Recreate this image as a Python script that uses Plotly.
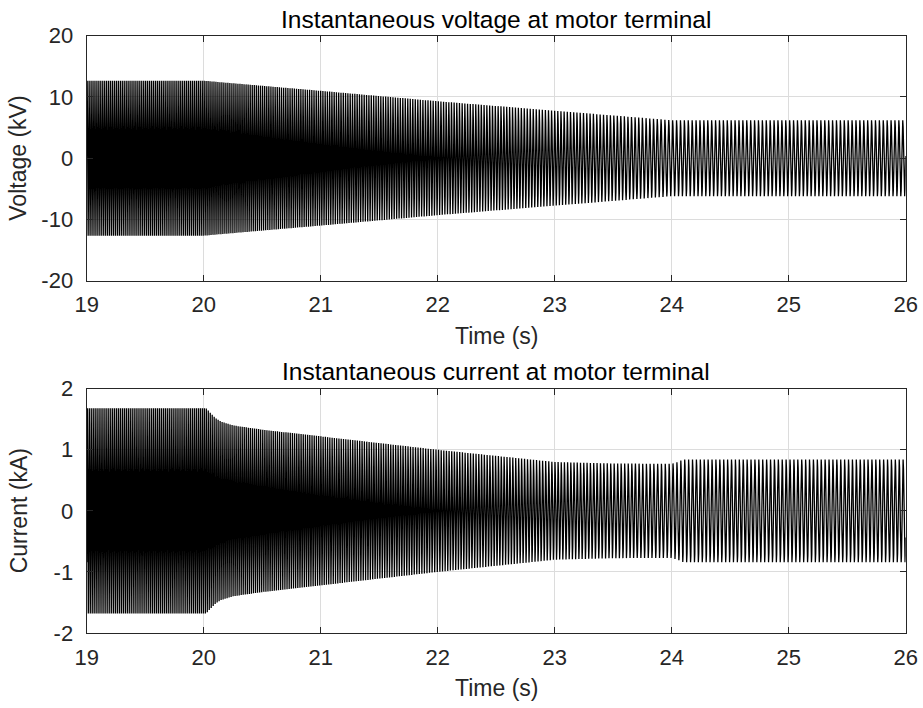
import numpy as np
import plotly.graph_objects as go

# ---- values ----
# Amplitude envelope of the voltage (kV) at given times (s)
volt_env_t = [19.0, 20.0, 21.0, 22.0, 23.0, 24.0, 26.0]
volt_env_kv = [12.65, 12.65, 11.0, 9.3, 7.75, 6.2, 6.2]

# Amplitude envelope of the current (kA)
curr_env_t = [19.0, 20.02, 20.05, 20.1, 20.15, 20.25, 20.5, 21.0, 22.0, 23.0, 23.5, 24.0, 24.05, 24.1, 26.0]
curr_env_ka = [1.68, 1.68, 1.62, 1.52, 1.46, 1.40, 1.33, 1.22, 1.00, 0.80, 0.775, 0.77, 0.80, 0.84, 0.84]

# Supply frequency (Hz) schedule (V/f ramp)
freq_t = [19.0, 20.0, 24.0, 26.0]
freq_hz = [60.0, 60.0, 30.0, 30.0]

x_ticks = [19, 20, 21, 22, 23, 24, 25, 26]
v_ticks = [-20, -10, 0, 10, 20]
i_ticks = [-2, -1, 0, 1, 2]

titles = ["Instantaneous voltage at motor terminal", "Instantaneous current at motor terminal"]
x_label = "Time (s)"
y_labels = ["Voltage (kV)", "Current (kA)"]

# ---- waveform built from the read envelope and frequency ----
fs = 5000.0
t = np.arange(19.0, 26.0 + 1e-9, 1.0 / fs)
f = np.interp(t, freq_t, freq_hz)
phase = 2 * np.pi * np.cumsum(f) / fs
v = np.interp(t, volt_env_t, volt_env_kv) * np.sin(phase)
i = np.interp(t, curr_env_t, curr_env_ka) * np.sin(phase - 0.6)

W, H = 923, 708

def px(x):
    return x / W

def py(y):
    return 1 - y / H

xl, xr = px(86.7), px(905.7)
top_dom = [py(280.7), py(35.7)]
bot_dom = [py(633.0), py(388.7)]

FONT = "Arial, Liberation Sans, Helvetica, sans-serif"
TXT = "#262626"

fig = go.Figure()
fig.add_trace(go.Scatter(x=t, y=v, mode="lines", line=dict(color="black", width=1.3),
                         xaxis="x", yaxis="y", showlegend=False, hoverinfo="skip"))
fig.add_trace(go.Scatter(x=t, y=i, mode="lines", line=dict(color="black", width=1.3),
                         xaxis="x2", yaxis="y2", showlegend=False, hoverinfo="skip"))

axis_common = dict(showline=True, linecolor=TXT, linewidth=1.3, mirror="ticks",
                   ticks="inside", ticklen=6, tickwidth=1.2, tickcolor=TXT,
                   showgrid=True, gridcolor="#dcdcdc", gridwidth=1, zeroline=False,
                   automargin=False,
                   tickfont=dict(family=FONT, size=22, color=TXT))

def labels(vals):
    return [str(v) for v in vals]

fig.update_layout(
    template="none",
    width=W, height=H, autosize=False,
    margin=dict(l=0, r=0, t=0, b=0, pad=0),
    paper_bgcolor="white", plot_bgcolor="white",
    xaxis=dict(domain=[xl, xr], range=[19, 26], tickvals=x_ticks, ticktext=labels(x_ticks),
               anchor="y", ticklabelstandoff=4, **axis_common),
    yaxis=dict(domain=top_dom, range=[-20, 20], tickvals=v_ticks, ticktext=labels(v_ticks),
               anchor="x", ticklabelstandoff=8, **axis_common),
    xaxis2=dict(domain=[xl, xr], range=[19, 26], tickvals=x_ticks, ticktext=labels(x_ticks),
                anchor="y2", ticklabelstandoff=4, **axis_common),
    yaxis2=dict(domain=bot_dom, range=[-2, 2], tickvals=i_ticks, ticktext=labels(i_ticks),
                anchor="x2", ticklabelstandoff=8, **axis_common),
)

xc = (xl + xr) / 2
ann = []
for title, ypix in zip(titles, [19.5, 371.0]):
    ann.append(dict(text=title, x=xc, y=py(ypix), xref="paper", yref="paper",
                    xanchor="center", yanchor="middle", showarrow=False,
                    font=dict(family=FONT, size=24.5, color="black")))
for ypix in [336.0, 688.0]:
    ann.append(dict(text=x_label, x=xc, y=py(ypix), xref="paper", yref="paper",
                    xanchor="center", yanchor="middle", showarrow=False,
                    font=dict(family=FONT, size=23, color=TXT)))
for lab, dom in zip(y_labels, [top_dom, bot_dom]):
    ann.append(dict(text=lab, x=px(18.5), y=(dom[0] + dom[1]) / 2, xref="paper", yref="paper",
                    xanchor="center", yanchor="middle", textangle=-90, showarrow=False,
                    font=dict(family=FONT, size=23, color=TXT)))
fig.update_layout(annotations=ann)

# remove the browser's default 8px page margin so the figure fills the window exactly
fig.write_html("out.html",
               config={"displayModeBar": False},
               post_script="document.body.style.margin='0px';document.body.style.overflow='hidden';")
